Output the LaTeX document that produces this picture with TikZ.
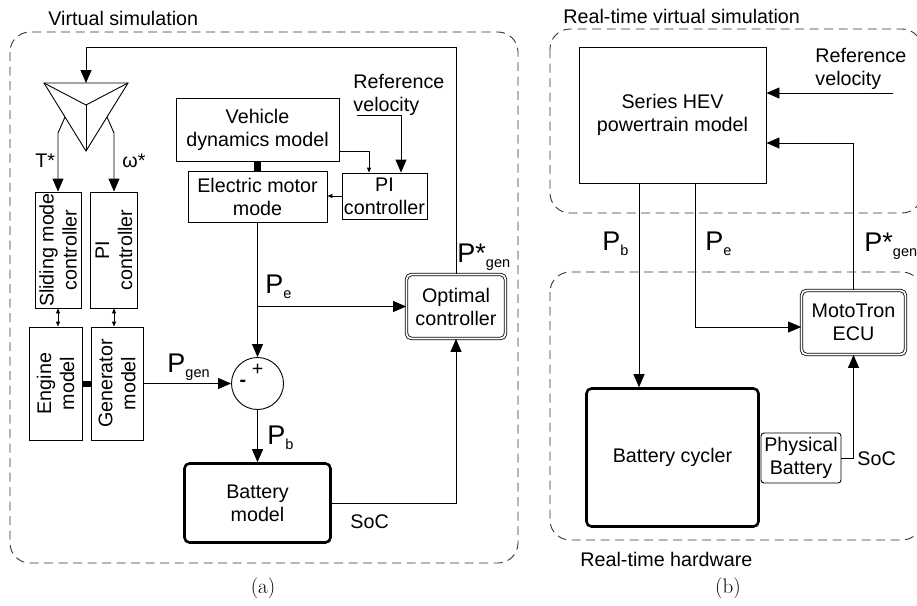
\documentclass[tikz,border=0pt]{standalone}
\usepackage{fontspec}
\setsansfont{Liberation Sans}
\usetikzlibrary{arrows.meta}
\newcommand\Plab[2]{{\fontsize{27}{27}\selectfont P#1}\raisebox{-5.5pt}{\fontsize{14.5}{14.5}\selectfont #2}}
\begin{document}
\begin{tikzpicture}[x=1pt,y=-1pt,
  font=\sffamily\fontsize{19.7}{23}\selectfont,
  line width=0.9pt,
  box/.style={draw, line width=0.9pt, inner sep=0pt, align=center},
  thickbox/.style={draw, line width=2.6pt, rounded corners=5pt, inner sep=0pt, align=center},
  dblbox/.style={draw, double, double distance=1.8pt, line width=0.8pt, rounded corners=5pt, inner sep=0pt, align=center},
  group/.style={draw=black!80, dash pattern=on 9pt off 5.5pt, line width=0.9pt, rounded corners=20pt},
  arrbig/.style={-{Triangle[length=13pt,width=11pt]}},
  arrsmall/.style={-{Triangle[length=5pt,width=4pt]}},
  arrdouble/.style={{Triangle[length=5pt,width=4pt]}-{Triangle[length=5pt,width=4pt]}},
  lab/.style={inner sep=0pt, anchor=base west},
  rtext/.style={rotate=90, inner sep=0pt, align=center},
  link/.style={fill=black, inner sep=0pt}
]
\useasboundingbox (0,0) rectangle (917,605);

% ---------- group frames ----------
\draw[group] (10,32) rectangle (518,563);
\draw[group] (550,29) rectangle (922,213);
\draw[group] (550,272) rectangle (922,540);

% ---------- titles ----------
\node[lab] (t1) at (48,25) {Virtual simulation};
\node[lab] (t2) at (563,23.5) {Real-time virtual simulation};
\node[lab] (t3) at (580,566.5) {Real-time hardware};
\node[font=\rmfamily\fontsize{21}{21}\selectfont, inner sep=0pt] (capa) at (263,588) {(a)};
\node[font=\rmfamily\fontsize{21}{21}\selectfont, inner sep=0pt] (capb) at (728,588) {(b)};

% ---------- panel (a) ----------
% splitter triangle
\coordinate (tritop) at (86,83);
\coordinate (triL) at (44,83);
\coordinate (triR) at (128,83);
\coordinate (triC) at (86,105);
\coordinate (triB) at (86,151);
\draw (triL) -- (triR) -- (triB) -- cycle;
\draw (triL) -- (triC) -- (triR);
\draw (triC) -- (triB);
\coordinate (tl) at (65,117);
\coordinate (tr) at (107,117);

\node[box, minimum width=46, minimum height=116] (sm) at (58,250) {};
\node[rtext] (smt) at (sm.center) {Sliding mode\\controller};
\node[box, minimum width=47, minimum height=116] (pil) at (114,250) {};
\node[rtext] (pilt) at (pil.center) {PI\\controller};
\node[box, minimum width=53, minimum height=113] (eng) at (55.5,383.5) {};
\node[rtext] (engt) at (eng.center) {Engine\\model};
\node[box, minimum width=52, minimum height=113] (gen) at (117,383.5) {};
\node[rtext] (gent) at (gen.center) {Generator\\model};
\node[link, minimum width=9, minimum height=6] (lk1) at (86.5,383.5) {};

\draw[arrbig] (tl) -- (58,133) -- (sm.north);
\draw[arrbig] (tr) -- (114,133) -- (pil.north);
\draw[arrdouble] (sm.south) -- (sm.south |- eng.north);
\draw[arrdouble] (pil.south) -- (pil.south |- gen.north);
\node[lab] (lt) at (35,167) {T*};
\node[lab] (lw) at (122,167) {ω*};

\node[box, minimum width=163, minimum height=63] (vd) at (257.5,129.5) {Vehicle\\dynamics model};
\node[box, minimum width=139, minimum height=51] (em) at (257.5,196.5) {Electric motor\\mode};
\node[link, minimum width=7, minimum height=10] (lk2) at (257.5,166) {};
\node[box, minimum width=85, minimum height=46] (pir) at (384.5,196) {PI\\controller};
\node[inner sep=0pt, anchor=west, align=left] (ref1) at (353,94.5) {Reference\\velocity};
\coordinate (refin) at (357,115);
\coordinate (vdo) at (339,151);
\draw[arrsmall] (vdo) -| ([xshift=-15.5pt]pir.north);
\draw[arrbig] (refin) -| ([xshift=16.5pt]pir.north);
\draw[arrsmall] (pir.west) -- (pir.west -| em.east);

\node[draw, circle, minimum size=52, inner sep=0pt] (circ) at (257.5,383.5) {};
\node[inner sep=0pt] (plus) at (257.5,370) {+};
\node[inner sep=0pt] (minus) at (243,383) {\textbf{-}};

\node[dblbox, minimum width=99, minimum height=64] (opt) at (456,306.5) {Optimal\\controller};
\node[thickbox, minimum width=146, minimum height=79] (bat) at (257.5,503) {Battery\\model};

\coordinate (pe) at (257.5,306.5);
\draw[arrbig] (em.south) -- (circ.north);
\draw[arrbig] (pe) -- (opt.west);
\draw[arrbig] (gen.east) -- (circ.west);
\draw[arrbig] (circ.south) -- (bat.north);
\draw[arrbig] (bat.east) -| (opt.south);
\coordinate (fb) at (456,47);
\draw[arrbig] (opt.north) -- (fb) -| (tritop);

\node[lab] (lpgen) at (167,372) {\Plab{}{gen}};
\node[lab] (lpe) at (265,293) {\Plab{}{e}};
\node[lab] (lpb) at (267,444) {\Plab{}{b}};
\node[lab] (lpgs) at (457,262) {\Plab{*}{gen}};
\node[lab] (soc1) at (350,528) {SoC};

% ---------- panel (b) ----------
\node[box, minimum width=187, minimum height=136] (hev) at (672.5,115) {Series HEV\\powertrain model};
\node[inner sep=0pt, anchor=west, align=left] (ref2) at (815,68.5) {Reference\\velocity};
\node[dblbox, minimum width=104, minimum height=64] (ecu) at (853.5,322.5) {MotoTron\\ECU};
\node[thickbox, minimum width=172, minimum height=138] (cyc) at (672.5,457.5) {Battery cycler};
\node[box, rounded corners=3pt, minimum width=80, minimum height=50] (pb) at (801,458) {Physical\\Battery};

\coordinate (ref2in) at (893,93);
\draw[arrbig] (ref2in) -- (ref2in -| hev.east);
\draw[arrbig] (ecu.north) |- (hev.east |- 0,143);
\draw[arrbig] (hev.south -| 639,0) -- (cyc.north -| 639,0);
\draw[arrbig] (hev.south -| 695,0) |- (ecu.west |- 0,327);
\draw[arrbig] (pb.east) -| (ecu.south);

\node[lab] (rpb) at (602,250) {\Plab{}{b}};
\node[lab] (rpe) at (705,250) {\Plab{}{e}};
\node[lab] (rpg) at (864,251) {\Plab{*}{gen}};
\node[lab] (soc2) at (857,465) {SoC};
\end{tikzpicture}
\end{document}
